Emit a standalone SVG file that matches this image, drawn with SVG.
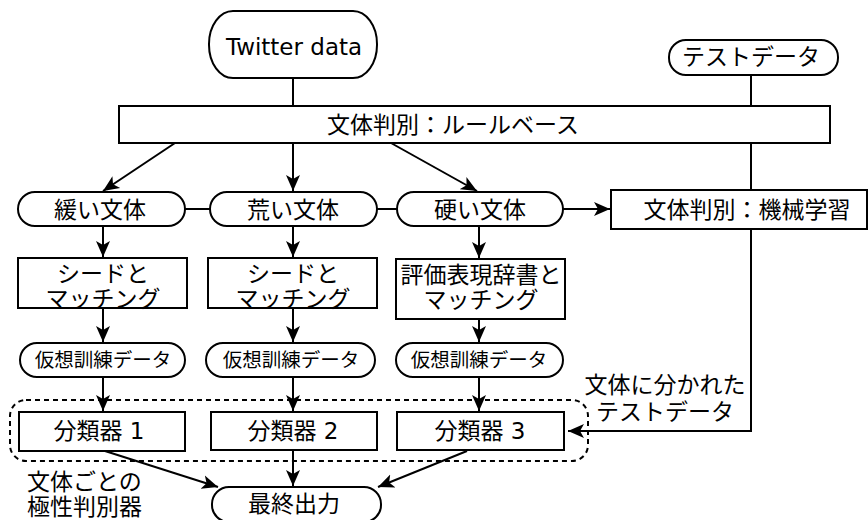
<svg xmlns="http://www.w3.org/2000/svg" width="868" height="520" viewBox="0 0 868 520">
<defs>
<marker id="ah" markerUnits="userSpaceOnUse" markerWidth="17" markerHeight="16" refX="16" refY="8" orient="auto">
<path d="M0,1 L16,8 L0,15 L4,8 Z" fill="#000"/>
</marker>
</defs>
<style>
.s{fill:#fff;stroke:#000;stroke-width:2}
.t{font-family:"DejaVu Sans","Noto Sans CJK JP",sans-serif;font-size:23px;fill:#000;text-anchor:middle;dominant-baseline:central}
.sm{font-size:19.5px}
.c{fill:none;stroke:#000;stroke-width:2}
.a{marker-end:url(#ah)}
.d{fill:none;stroke:#000;stroke-width:2;stroke-dasharray:5 4}
</style>
<rect width="868" height="520" fill="#fff"/>
<g id="group-classifiers">
<rect class="d" x="10" y="400" width="578" height="61" rx="16" ry="16"/>
</g>
<g id="connectors">
<line class="c" x1="293" y1="78" x2="293" y2="106"/>
<line class="c" x1="751" y1="75" x2="751" y2="106"/>
<line class="c a" x1="175" y1="143" x2="103" y2="191"/>
<line class="c a" x1="293" y1="143" x2="293" y2="191"/>
<line class="c a" x1="391" y1="143" x2="477" y2="191"/>
<line class="c" x1="751" y1="143" x2="751" y2="190"/>
<line class="c" x1="185" y1="209" x2="210" y2="209"/>
<line class="c" x1="377" y1="209" x2="397" y2="209"/>
<line class="c a" x1="563" y1="209" x2="610" y2="209"/>
<line class="c a" x1="103" y1="226" x2="103" y2="257"/>
<line class="c a" x1="293" y1="226" x2="293" y2="257"/>
<line class="c a" x1="479" y1="226" x2="479" y2="258"/>
<line class="c a" x1="103" y1="308" x2="103" y2="342"/>
<line class="c a" x1="293" y1="308" x2="293" y2="342"/>
<line class="c a" x1="479" y1="319" x2="479" y2="342"/>
<line class="c a" x1="103" y1="377" x2="103" y2="411"/>
<line class="c a" x1="293" y1="377" x2="293" y2="411"/>
<line class="c a" x1="479" y1="377" x2="479" y2="411"/>
<polyline class="c a" points="751,229 751,431 568,431"/>
<line class="c a" x1="105" y1="451" x2="218" y2="487"/>
<line class="c a" x1="293" y1="450" x2="293" y2="486"/>
<line class="c a" x1="467" y1="451" x2="378" y2="487"/>
</g>
<g id="twitter">
<rect class="s" x="209" y="11" width="168" height="67" rx="24" ry="33"/>
<text class="t" x="294" y="55" style="dominant-baseline:auto">Twitter data</text>
</g>
<g id="testdata">
<rect class="s" x="669" y="40" width="169" height="35" rx="17" ry="17"/>
<text class="t" x="751" y="57">テストデータ</text>
</g>
<g id="rule">
<rect class="s" x="119" y="106" width="711" height="37"/>
<text class="t" x="453" y="125">文体判別：ルールベース</text>
</g>
<g id="loose">
<rect class="s" x="18" y="192" width="167" height="34" rx="17" ry="17"/>
<text class="t" x="100" y="210">緩い文体</text>
</g>
<g id="rough">
<rect class="s" x="210" y="192" width="167" height="34" rx="17" ry="17"/>
<text class="t" x="293" y="210">荒い文体</text>
</g>
<g id="hard">
<rect class="s" x="397" y="192" width="166" height="34" rx="17" ry="17"/>
<text class="t" x="480" y="210">硬い文体</text>
</g>
<g id="ml">
<rect class="s" x="611" y="190" width="256" height="39"/>
<text class="t" x="747" y="210">文体判別：機械学習</text>
</g>
<g id="match1">
<rect class="s" x="18" y="258" width="169" height="50"/>
<text class="t" x="103" y="274">シードと</text>
<text class="t" x="103" y="298.5">マッチング</text>
</g>
<g id="match2">
<rect class="s" x="208" y="258" width="169" height="50"/>
<text class="t" x="293" y="274">シードと</text>
<text class="t" x="293" y="298.5">マッチング</text>
</g>
<g id="match3">
<rect class="s" x="396" y="259" width="169" height="60"/>
<text class="t" x="481" y="275">評価表現辞書と</text>
<text class="t" x="481" y="300">マッチング</text>
</g>
<g id="pseudo1">
<rect class="s" x="20" y="343" width="165" height="34" rx="17" ry="17"/>
<text class="t sm" x="103" y="360">仮想訓練データ</text>
</g>
<g id="pseudo2">
<rect class="s" x="206" y="343" width="169" height="34" rx="17" ry="17"/>
<text class="t sm" x="291" y="360">仮想訓練データ</text>
</g>
<g id="pseudo3">
<rect class="s" x="396" y="343" width="167" height="34" rx="17" ry="17"/>
<text class="t sm" x="479" y="360">仮想訓練データ</text>
</g>
<g id="clf1">
<rect class="s" x="19" y="412" width="166" height="39"/>
<text class="t" x="99" y="431">分類器 1</text>
</g>
<g id="clf2">
<rect class="s" x="211" y="412" width="166" height="38"/>
<text class="t" x="293" y="431">分類器 2</text>
</g>
<g id="clf3">
<rect class="s" x="397" y="412" width="167" height="38"/>
<text class="t" x="480" y="431">分類器 3</text>
</g>
<g id="final">
<rect class="s" x="212" y="487" width="169" height="35" rx="17" ry="17"/>
<text class="t" x="294" y="504">最終出力</text>
</g>
<g id="label-classifiers">
<text class="t" x="27" y="482" style="text-anchor:start">文体ごとの</text>
<text class="t" x="27" y="507" style="text-anchor:start">極性判別器</text>
</g>
<g id="label-split">
<text class="t" x="665" y="385">文体に分かれた</text>
<text class="t" x="665" y="412">テストデータ</text>
</g>
</svg>
